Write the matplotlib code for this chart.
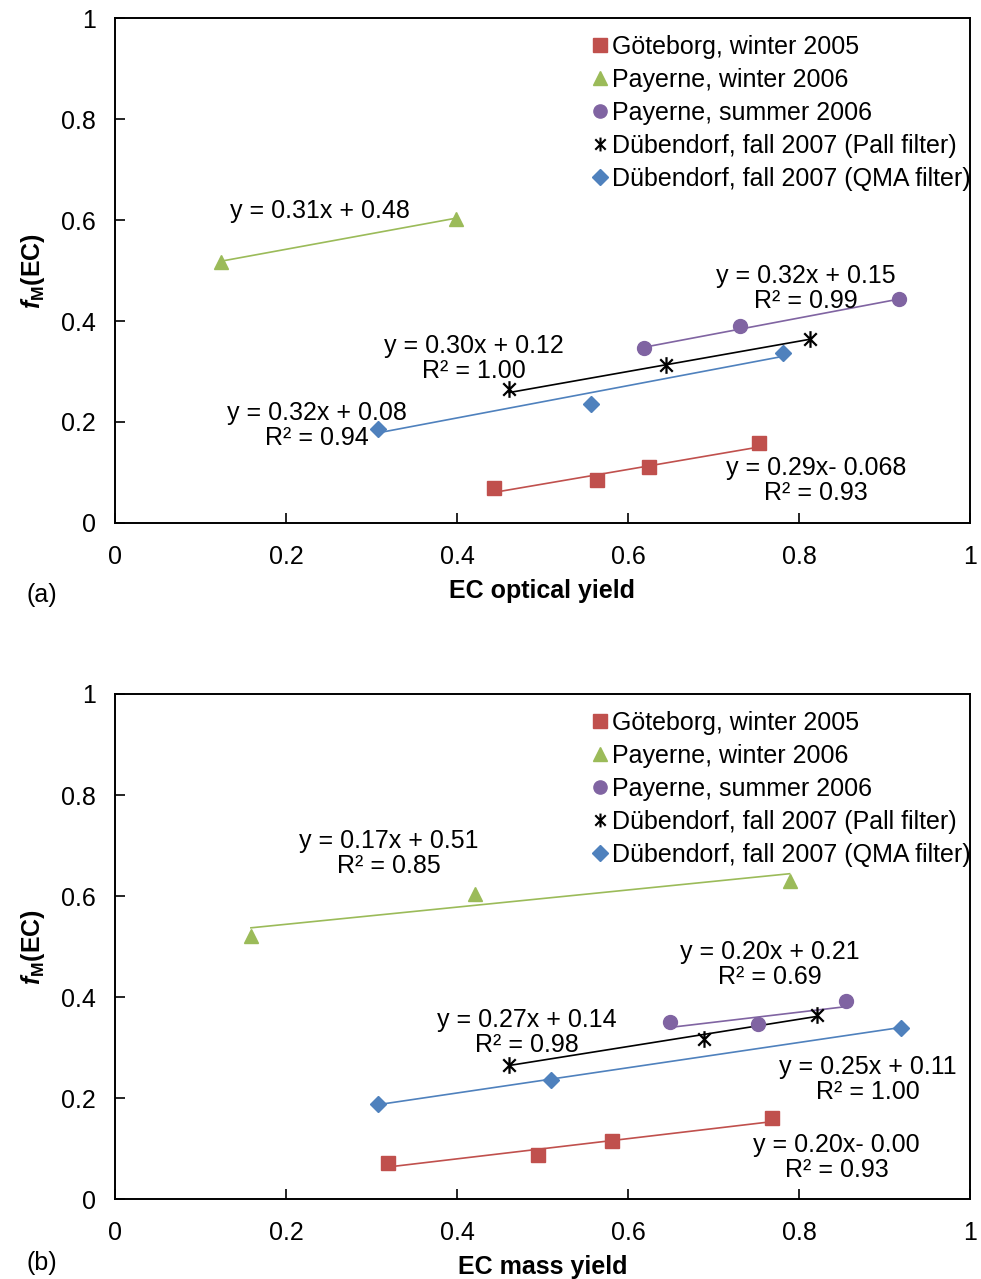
import matplotlib
matplotlib.use("Agg")
import matplotlib.pyplot as plt
import numpy as np
from matplotlib.path import Path
from matplotlib.lines import Line2D

plt.rcParams['font.family'] = ['Liberation Sans', 'DejaVu Sans']
plt.rcParams['mathtext.fontset'] = 'custom'
plt.rcParams['mathtext.rm'] = 'Liberation Sans'
plt.rcParams['mathtext.it'] = 'Liberation Sans:italic'
plt.rcParams['mathtext.bf'] = 'Liberation Sans:bold'
plt.rcParams['mathtext.bfit'] = 'Liberation Sans:italic:bold'

# ---------------- data ----------------
labels = ['Göteborg, winter 2005', 'Payerne, winter 2006', 'Payerne, summer 2006',
          'Dübendorf, fall 2007 (Pall filter)', 'Dübendorf, fall 2007 (QMA filter)']

# panel (a): EC optical yield
a_got_x = [0.443, 0.564, 0.625, 0.753]
a_got_y = [0.069, 0.085, 0.111, 0.158]
a_pw_x = [0.124, 0.399]
a_pw_y = [0.517, 0.602]
a_ps_x = [0.619, 0.731, 0.917]
a_ps_y = [0.347, 0.390, 0.444]
a_pall_x = [0.461, 0.644, 0.813]
a_pall_y = [0.265, 0.313, 0.364]
a_qma_x = [0.308, 0.557, 0.781]
a_qma_y = [0.186, 0.236, 0.337]
a_slope = [0.29, 0.31, 0.32, 0.30, 0.32]
a_icpt = [-0.068, 0.48, 0.15, 0.12, 0.08]
a_eq = ['y = 0.29x- 0.068\nR² = 0.93', 'y = 0.31x + 0.48',
        'y = 0.32x + 0.15\nR² = 0.99', 'y = 0.30x + 0.12\nR² = 1.00',
        'y = 0.32x + 0.08\nR² = 0.94']

# panel (b): EC mass yield
b_got_x = [0.319, 0.495, 0.581, 0.768]
b_got_y = [0.071, 0.087, 0.115, 0.160]
b_pw_x = [0.159, 0.421, 0.789]
b_pw_y = [0.521, 0.604, 0.630]
b_ps_x = [0.649, 0.752, 0.855]
b_ps_y = [0.350, 0.347, 0.392]
b_pall_x = [0.461, 0.689, 0.821]
b_pall_y = [0.265, 0.317, 0.364]
b_qma_x = [0.308, 0.510, 0.919]
b_qma_y = [0.188, 0.236, 0.339]
b_slope = [0.20, 0.17, 0.20, 0.27, 0.25]
b_icpt = [-0.0004, 0.51, 0.21, 0.14, 0.11]
b_eq = ['y = 0.20x- 0.00\nR² = 0.93', 'y = 0.17x + 0.51\nR² = 0.85',
        'y = 0.20x + 0.21\nR² = 0.69', 'y = 0.27x + 0.14\nR² = 0.98',
        'y = 0.25x + 0.11\nR² = 1.00']

# ---------------- styles ----------------
colors = ['#C0504D', '#9BBB59', '#8064A2', '#000000', '#4F81BD']
star = Path([(0, -1), (0, 1), (-0.75, -0.75), (0.75, 0.75), (-0.75, 0.75), (0.75, -0.75)],
            [Path.MOVETO, Path.LINETO, Path.MOVETO, Path.LINETO, Path.MOVETO, Path.LINETO])
markers = ['s', '^', 'o', star, 'D']
msizes = [10, 10, 10, 12, 8.5]
FS = 18

# annotation positions in data coords (centre of text block)
a_eq_pos = [(0.82, 0.085), (0.24, 0.618), (0.808, 0.465), (0.42, 0.326), (0.236, 0.193)]
b_eq_pos = [(0.844, 0.083), (0.32, 0.685), (0.766, 0.464), (0.482, 0.33), (0.881, 0.237)]


def draw_panel(ax, xs, ys, slopes, icpts, eqs, eq_pos, xlabel):
    for i in range(5):
        x = np.array(xs[i])
        y = np.array(ys[i])
        xl = np.array([x.min(), x.max()])
        ax.plot(xl, slopes[i] * xl + icpts[i], color=colors[i], lw=1.2, zorder=2)
        if markers[i] is star:
            ax.plot(x, y, linestyle='none', marker=star, ms=msizes[i], mec='black',
                    mew=1.6, zorder=3)
        else:
            ax.plot(x, y, linestyle='none', marker=markers[i], ms=msizes[i],
                    color=colors[i], mec=colors[i], zorder=3)
        ax.text(eq_pos[i][0], eq_pos[i][1], eqs[i], ha='center', va='center',
                fontsize=FS, linespacing=1.05, zorder=4)

    ax.set_xlim(0, 1)
    ax.set_ylim(0, 1)
    ax.set_xticks([0, 0.2, 0.4, 0.6, 0.8, 1])
    ax.set_xticklabels(['0', '0.2', '0.4', '0.6', '0.8', '1'])
    ax.set_yticks([0, 0.2, 0.4, 0.6, 0.8, 1])
    ax.set_yticklabels(['0', '0.2', '0.4', '0.6', '0.8', '1'])
    ax.tick_params(direction='in', length=7, width=1.2, labelsize=FS)
    ax.tick_params(axis='x', pad=16)
    ax.tick_params(axis='y', pad=14)
    for s in ax.spines.values():
        s.set_linewidth(1.4)
    ax.set_xlabel(xlabel, fontsize=FS, fontweight='bold', labelpad=7)
    ax.set_ylabel(r'$\mathbfit{f}_{\mathbf{M}}$(EC)', fontsize=FS, fontweight='bold',
                  labelpad=10)

    handles = []
    for i in range(5):
        if markers[i] is star:
            h = Line2D([], [], linestyle='none', marker=star, ms=10, mec='black', mew=1.5)
        else:
            h = Line2D([], [], linestyle='none', marker=markers[i], ms=msizes[i] * 0.95,
                       color=colors[i], mec=colors[i])
        handles.append(h)
    leg = ax.legend(handles, labels, loc='upper left', bbox_to_anchor=(0.556, 0.966),
                    frameon=False, fontsize=FS, handlelength=0.75, handletextpad=0.1,
                    labelspacing=0.36, borderpad=0, borderaxespad=0)
    leg.set_zorder(5)


fig = plt.figure(figsize=(9.81, 12.79), dpi=100)
ax1 = fig.add_axes([0.1172, 0.5911, 0.8716, 0.3948])
ax2 = fig.add_axes([0.1172, 0.0625, 0.8716, 0.3949])

draw_panel(ax1, [a_got_x, a_pw_x, a_ps_x, a_pall_x, a_qma_x],
           [a_got_y, a_pw_y, a_ps_y, a_pall_y, a_qma_y],
           a_slope, a_icpt, a_eq, a_eq_pos, 'EC optical yield')
draw_panel(ax2, [b_got_x, b_pw_x, b_ps_x, b_pall_x, b_qma_x],
           [b_got_y, b_pw_y, b_ps_y, b_pall_y, b_qma_y],
           b_slope, b_icpt, b_eq, b_eq_pos, 'EC mass yield')

fig.text(42 / 981, 1 - 595 / 1279, '(a)', fontsize=FS, ha='center', va='center')
fig.text(42 / 981, 1 - 1263 / 1279, '(b)', fontsize=FS, ha='center', va='center')

fig.savefig('out.png', dpi=100)
